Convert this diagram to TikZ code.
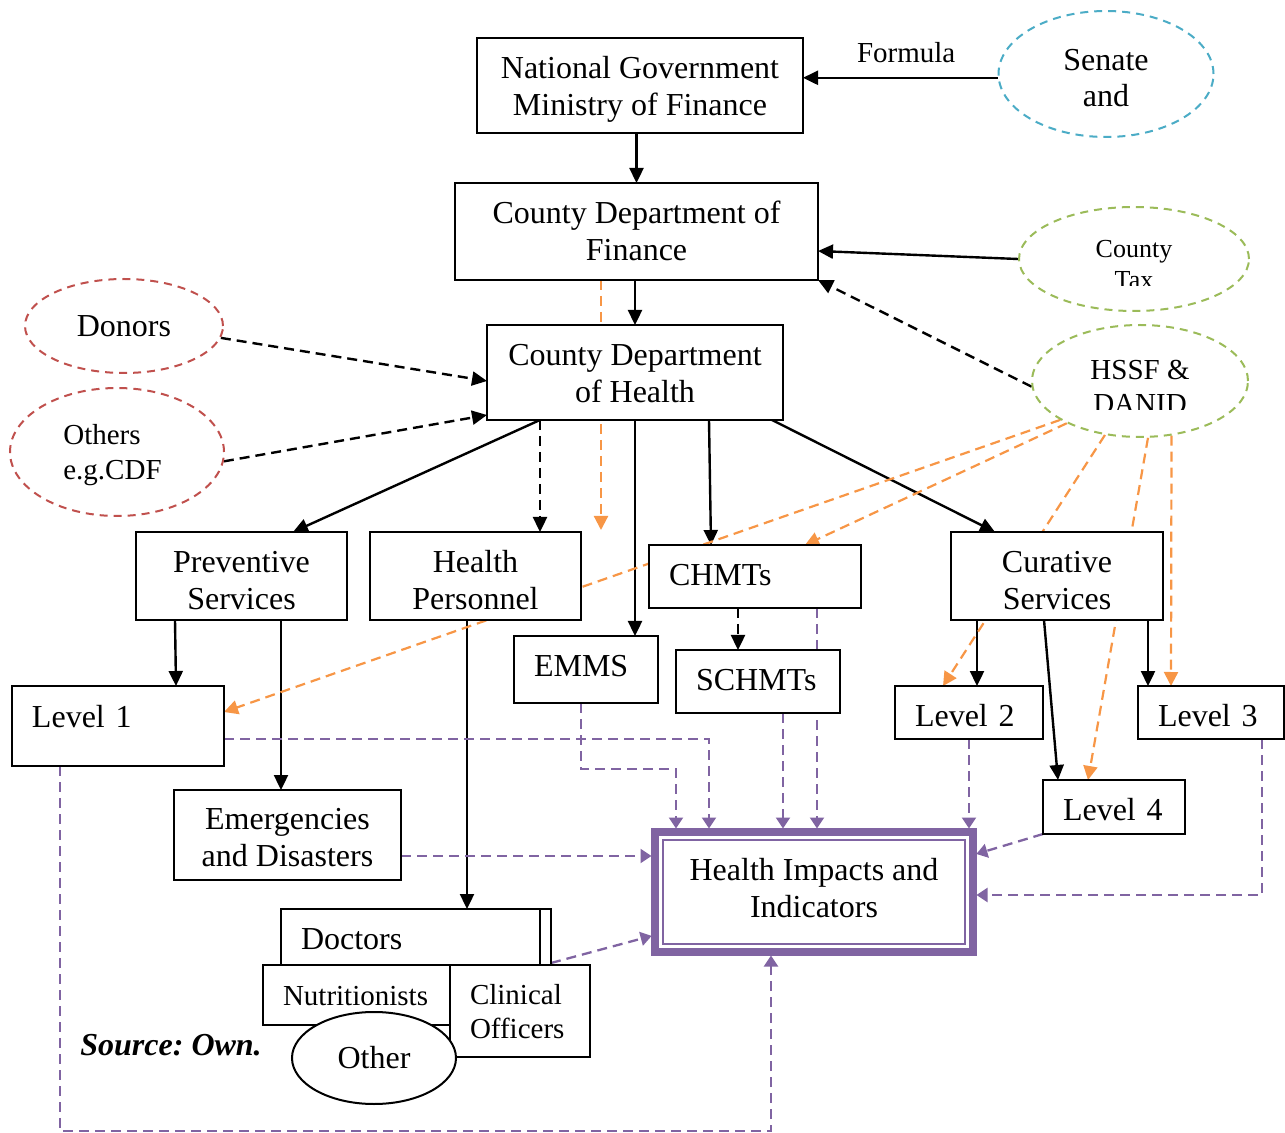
\documentclass[tikz,border=0pt]{standalone}
\usepackage{fontspec}
\setmainfont{Liberation Serif}
\frenchspacing
\usetikzlibrary{arrows.meta,calc,shapes.geometric}
\definecolor{cpurple}{HTML}{8064A2}
\definecolor{corange}{HTML}{F79646}
\definecolor{cblue}{HTML}{4BACC6}
\definecolor{cgreen}{HTML}{9BBB59}
\definecolor{cred}{HTML}{C0504D}
\pgfdeclarelayer{bg}
\pgfsetlayers{bg,main}
% text block with given height above first baseline and given depth
\newcommand\tbk[4]{\raisebox{0pt}[#1][#2]{\begin{tabular}[t]{@{}#3@{}}#4\end{tabular}}}
\begin{document}
\begin{tikzpicture}[x=0.5pt,y=-0.5pt,
  box/.style={draw, line width=1pt, fill=white, inner sep=0pt, outer sep=0pt, font=\fontsize{16}{18.5}\selectfont},
  lbox/.style={box, align=left, inner xsep=10pt},
  ell/.style={ellipse, draw, fill=white, inner sep=0pt, line width=1pt, dash pattern=on 4pt off 3pt},
  arr/.style={line width=1.2pt, -{Triangle[length=7.5pt,width=7pt]}},
  darr/.style={arr, dash pattern=on 5pt off 3pt},
  oarr/.style={corange, line width=1.1pt, dash pattern=on 5pt off 3pt, -{Triangle[length=7pt,width=7pt]}},
  parr/.style={cpurple, line width=1.15pt, dash pattern=on 5pt off 3pt, -{Triangle[length=5.5pt,width=7pt]}, shorten >=1.75pt},
]
\useasboundingbox (0,0) rectangle (1285,1133);

% boxes
\node[box, minimum width=163pt, minimum height=47.5pt] (natgov) at (640,85.5) {\tbk{20.25pt}{27.25pt}{c}{National Government\\Ministry of Finance}};
\node[box, minimum width=181.5pt, minimum height=48.5pt] (cfin) at (636.5,231.5) {\tbk{20.25pt}{28.25pt}{c}{County Department of\\Finance}};
\node[box, minimum width=148pt, minimum height=47.5pt] (chealth) at (635,372.5) {\tbk{20.25pt}{27.25pt}{c}{County Department\\of Health}};
\node[box, minimum width=105.5pt, minimum height=44pt] (prev) at (241.5,576) {\tbk{20.25pt}{23.75pt}{c}{Preventive\\Services}};
\node[box, minimum width=105.5pt, minimum height=44pt] (hpers) at (475.5,576) {\tbk{20.25pt}{23.75pt}{c}{Health\\Personnel}};
\node[lbox, text width=86pt, minimum height=31.5pt] (chmts) at (755,576.5) {\tbk{20.25pt}{11.25pt}{l}{CHMTs}};
\node[box, minimum width=106pt, minimum height=44pt] (cur) at (1057,576) {\tbk{20.25pt}{23.75pt}{c}{Curative\\Services}};
\node[lbox, text width=52pt, minimum height=33.5pt] (emms) at (586,669.5) {\tbk{20.25pt}{13.25pt}{l}{EMMS}};
\node[lbox, text width=62pt, minimum height=31.5pt] (schmts) at (758,681.5) {\tbk{20.25pt}{11.25pt}{l}{SCHMTs}};
\node[lbox, text width=86pt, minimum height=40pt] (lev1) at (118,726) {\tbk{20.5pt}{19.5pt}{l}{Level 1}};
\node[lbox, text width=54pt, minimum height=26.5pt] (lev2) at (969,712.5) {\tbk{20.25pt}{6.25pt}{l}{Level 2}};
\node[lbox, text width=53pt, minimum height=26.5pt] (lev3) at (1211,712.5) {\tbk{20.25pt}{6.25pt}{l}{Level 3}};
\node[lbox, text width=51pt, minimum height=27pt] (lev4) at (1114,807) {\tbk{20.25pt}{6.75pt}{l}{Level 4}};
\node[box, minimum width=113.5pt, minimum height=45pt] (emerg) at (287.5,835) {\tbk{19.75pt}{25.25pt}{c}{Emergencies\\and Disasters}};
\node[box, draw=cpurple, line width=3.75pt, minimum width=159pt, minimum height=60pt] (hi) at (814,892) {\tbk{24.25pt}{35.75pt}{c}{Health Impacts and\\Indicators}};
\draw[cpurple, line width=1.3pt] ($(hi.north west)+(8,8)$) rectangle ($(hi.south east)+(-8,-8)$);
\node[lbox, text width=115pt, minimum height=28pt] (doctors) at (416,937) {\tbk{20.25pt}{7.75pt}{l}{Doctors}};
\draw[line width=1pt] ($(doctors.north east)+(-11,0)$) -- ($(doctors.south east)+(-11,0)$);
\node[lbox, text width=73.5pt, minimum height=30pt, font=\fontsize{14.5}{17}\selectfont] (nutri) at (356.5,995) {\tbk{20pt}{10pt}{l}{Nutritionists}};
\node[lbox, text width=50pt, minimum height=46pt, font=\fontsize{14.5}{17}\selectfont] (clin) at (520,1011) {\tbk{19.5pt}{26.5pt}{l}{Clinical\\Officers}};
\node[ell, solid, minimum width=82pt, minimum height=46pt, font=\fontsize{16}{18.5}\selectfont] (other) at (374,1058) {Other};

% ellipses
\node[ell, draw=cblue, minimum width=107.5pt, minimum height=63pt, font=\fontsize{16}{18}\selectfont] (senate) at (1106,74) {\tbk{10pt}{13.5pt}{c}{Senate\\and}};
\node[ell, draw=cgreen, minimum width=115pt, minimum height=52pt, font=\fontsize{13}{15.5}\selectfont] (ctax) at (1134,259) {\tbk{8pt}{9.4pt}{c}{County\\Tax}};
\node[ell, draw=cgreen, minimum width=108pt, minimum height=56pt, font=\fontsize{14.5}{17}\selectfont] (hssf) at (1140,381) {\tbk{9pt}{10.4pt}{c}{HSSF \&\\DANID}};
\node[ell, draw=cred, minimum width=99pt, minimum height=47pt, font=\fontsize{16}{18.5}\selectfont] (donors) at (124,326) {Donors};
\node[ell, draw=cred, minimum width=107pt, minimum height=64pt, font=\fontsize{14.5}{17.5}\selectfont] (others) at (117,452) {\tbk{8pt}{15.4pt}{l}{Others\\e.g.CDF}\kern4.5pt};
% text cut off at the bottom of the text boxes
\fill[white] (1085,286) rectangle (1185,298);
\fill[white] (1085,410) rectangle (1195,421);

\node[anchor=base west, inner sep=0pt, font=\bfseries\itshape\fontsize{16}{18}\selectfont] (src) at (80,1055) {Source: Own.};

\begin{pgfonlayer}{bg}
% black solid
\draw[arr] (senate.182) -- (senate.182 -| natgov.east) node[pos=0.47, above=7pt, inner sep=0pt, text=black, font=\fontsize{14.5}{17}\selectfont] (formula) {Formula};
\draw[arr] (cfin.north |- natgov.south) -- (cfin.north);
\draw[arr] (ctax.west) -- ($(cfin.north east)+(0,68)$);
\draw[arr] (chealth.north |- cfin.south) -- (chealth.north);
\draw[arr] ($(chealth.south west)+(53,0)$) -- ($(prev.north west)+(157,0)$);
\draw[arr] (chealth.south) -- (chealth.south |- emms.north);
\draw[arr] ($(chealth.south west)+(222,0)$) -- ($(chmts.north west)+(62,0)$);
\draw[arr] ($(chealth.south east)+(-11,0)$) -- ($(cur.north west)+(44,0)$);
\draw[arr] ($(prev.south west)+(39,0)$) -- ($(lev1.north west)+(164,0)$);
\draw[arr] ($(prev.south west)+(145,0)$) -- ($(emerg.north west)+(107,0)$);
\draw[arr] ($(hpers.south west)+(97,0)$) -- ($(doctors.north west)+(186,0)$);
\draw[arr] ($(cur.south west)+(26,0)$) -- ($(lev2.north west)+(82,0)$);
\draw[arr] ($(cur.south west)+(93,0)$) -- ($(lev4.north west)+(15,0)$);
\draw[arr] ($(cur.south west)+(197,0)$) -- ($(lev3.north west)+(10,0)$);
% black dashed
\draw[darr] (donors.-7) -- ($(chealth.north west)+(0,56)$);
\draw[darr] (others.-5) -- ($(chealth.south west)+(0,-5)$);
\draw[darr] (hssf.183) -- (cfin.south east);
\draw[darr] ($(chealth.south west)+(53,0)$) -- ($(hpers.north west)+(170,0)$);
\draw[darr] ($(chmts.south west)+(89,0)$) -- ($(schmts.north west)+(62,0)$);
% orange dashed
\draw[oarr] ($(cfin.south west)+(146,0)$) -- ++(0,250);
\draw[oarr] (hssf.206) -- ($(lev1.north east)+(0,26)$);
\draw[oarr] (hssf.210) -- ($(chmts.north west)+(156,0)$);
\draw[oarr] (hssf.237) -- ($(lev2.north west)+(48,0)$);
\draw[oarr] (hssf.278) -- ($(lev4.north west)+(45,0)$);
\draw[oarr] (hssf.300) -- ($(lev3.north west)+(33,0)$);
% purple dashed
\draw[parr] ($(lev1.north east)+(0,53)$) -| ($(hi.north west)+(54,0)$);
\draw[parr] ($(emms.south west)+(67,0)$) -- ++(0,66) -| ($(hi.north west)+(21,0)$);
\draw[parr] ($(schmts.south west)+(107,0)$) -- ($(hi.north west)+(128,0)$);
\draw[parr] ($(chmts.south west)+(168,0)$) -- ($(hi.north west)+(162,0)$);
\draw[parr] ($(lev2.south west)+(74,0)$) -- ($(hi.north east)+(-4,0)$);
\draw[parr] (lev4.south west) -- ($(hi.north east)+(0,23)$);
\draw[parr] ($(lev3.south west)+(124,0)$) |- ($(hi.north east)+(0,63)$);
\draw[parr] ($(emerg.south east)+(0,-24)$) -- ($(hi.north west)+(0,24)$);
\draw[parr] ($(doctors.south east)+(0,-2)$) -- ($(hi.south west)+(0,-17)$);
\draw[parr] ($(lev1.south west)+(48,0)$) -- ++(0,365) -| ($(hi.south west)+(116,0)$);
\end{pgfonlayer}
\end{tikzpicture}
\end{document}
